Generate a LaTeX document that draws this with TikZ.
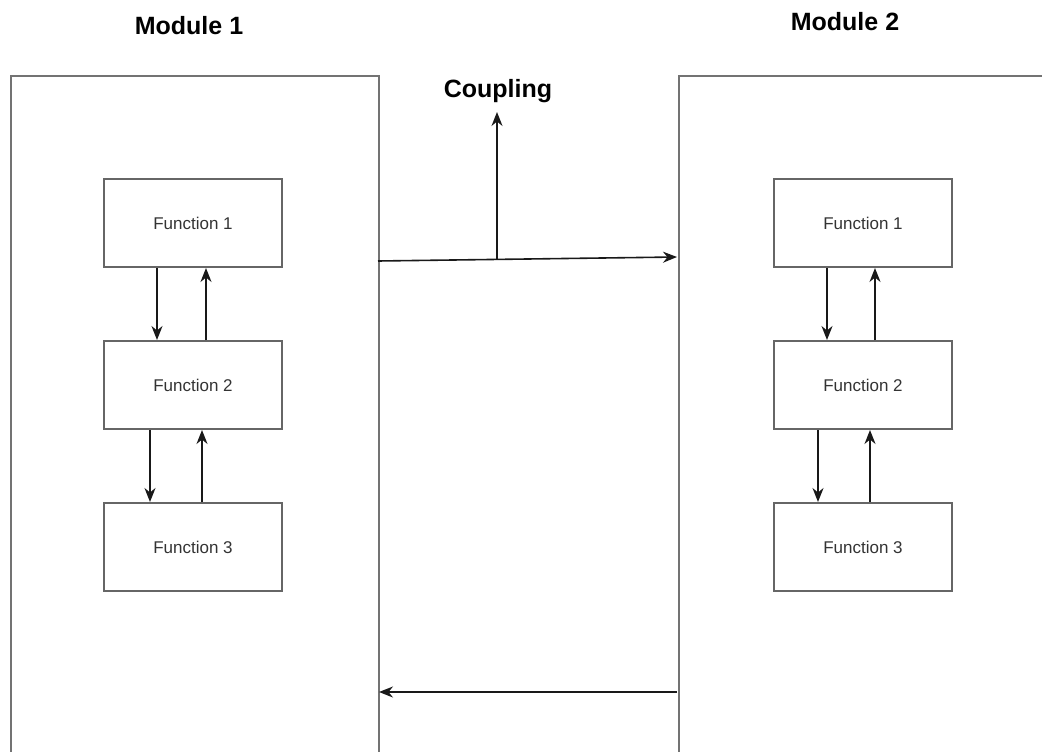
\documentclass[tikz,border=0pt]{standalone}
\usepackage{fontspec}
\setmainfont{Liberation Sans}
\usetikzlibrary{arrows.meta,calc}
\begin{document}
\begin{tikzpicture}[x=1pt,y=-1pt,
  module/.style={draw=black!55,line width=2pt,fill=none,inner sep=0pt,anchor=north west},
  funcbox/.style={draw=black!60,line width=2pt,minimum width=178pt,minimum height=88pt,inner sep=0pt,font=\fontsize{17}{19}\selectfont,text=black!80},
  title/.style={font=\bfseries\fontsize{25}{28}\selectfont,inner sep=0pt,anchor=base},
  link/.style={draw=black!90,line width=1.6pt,-{Stealth[length=14pt,width=11pt,inset=4.5pt]}}]
\useasboundingbox (0,0) rectangle (1042,752);
\begin{scope}
\clip (0,0) rectangle (1042,752);
% the two modules run past the lower (and right) edge of the page
\node[module,minimum width=368pt,minimum height=740pt] (m1) at (10,75) {};
\node[module,minimum width=420pt,minimum height=740pt] (m2) at (678,75) {};
\end{scope}

\node[title] (t1) at (189,35) {Module 1};
\node[title] (t2) at (845,31) {Module 2};

% functions of module 1
\node[funcbox] (a1) at (193,223) {Function 1};
\node[funcbox] (a2) at (193,385) {Function 2};
\node[funcbox] (a3) at (193,547) {Function 3};
% functions of module 2
\node[funcbox] (b1) at (863,223) {Function 1};
\node[funcbox] (b2) at (863,385) {Function 2};
\node[funcbox] (b3) at (863,547) {Function 3};

% calls between functions
\draw[link] ([xshift=-36pt]a1.south) -- ([xshift=-36pt]a1.south |- a2.north);
\draw[link] ([xshift=13pt]a2.north) -- ([xshift=13pt]a2.north |- a1.south);
\draw[link] ([xshift=-43pt]a2.south) -- ([xshift=-43pt]a2.south |- a3.north);
\draw[link] ([xshift=9pt]a3.north) -- ([xshift=9pt]a3.north |- a2.south);

\draw[link] ([xshift=-36pt]b1.south) -- ([xshift=-36pt]b1.south |- b2.north);
\draw[link] ([xshift=12pt]b2.north) -- ([xshift=12pt]b2.north |- b1.south);
\draw[link] ([xshift=-45pt]b2.south) -- ([xshift=-45pt]b2.south |- b3.north);
\draw[link] ([xshift=7pt]b3.north) -- ([xshift=7pt]b3.north |- b2.south);

% coupling between the modules
\coordinate (o1) at (378,261);
\coordinate (i2) at (677,257);
\coordinate (cj) at (497,259);
\coordinate (ct) at (497,112);
\node[title] (cl) at (498,97) {Coupling};
\draw[link] (o1) -- (i2);
\draw[link] (cj) -- (ct);

\coordinate (o2) at (677,692);
\coordinate (i1) at (379,692);
\draw[link] (o2) -- (i1);
\end{tikzpicture}
\end{document}
